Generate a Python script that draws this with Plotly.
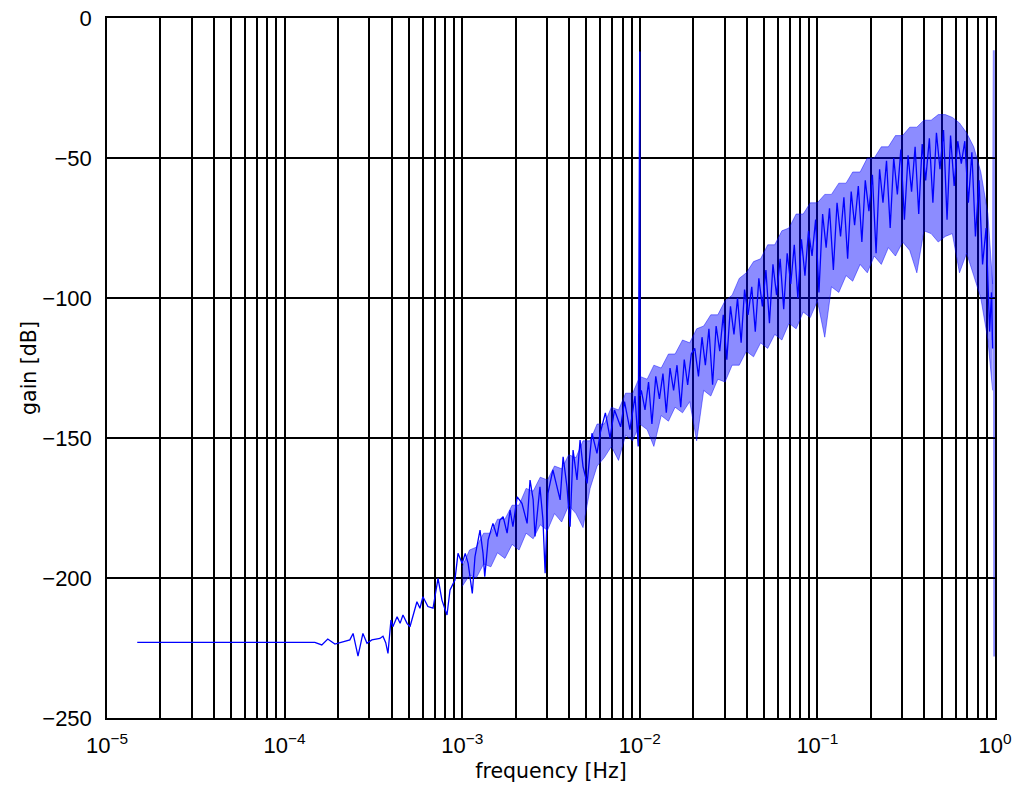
import plotly.graph_objects as go

# ---- main (dark) trace: frequency [Hz] and gain [dB] ----
freq = [
    1.48e-5, 1.48e-4, 1.62e-4, 1.75e-4, 1.92e-4, 2.13e-4, 2.33e-4, 2.43e-4, 2.59e-4, 2.76e-4,
    2.91e-4, 3.10e-4, 3.44e-4, 3.58e-4, 3.71e-4, 3.82e-4, 3.97e-4, 4.07e-4, 4.30e-4, 4.47e-4,
    4.64e-4, 4.89e-4, 5.08e-4, 5.56e-4, 5.78e-4, 6.01e-4, 6.41e-4, 6.85e-4, 7.31e-4, 7.69e-4,
    8.21e-4, 8.54e-4, 9.10e-4, 9.47e-4, 1.00e-3, 1.04e-3, 1.08e-3, 1.14e-3, 1.18e-3, 1.26e-3,
    1.31e-3, 1.34e-3, 1.40e-3, 1.49e-3, 1.57e-3, 1.63e-3, 1.70e-3, 1.79e-3, 1.86e-3, 1.93e-3,
    2.04e-3, 2.17e-3, 2.32e-3, 2.41e-3, 2.51e-3, 2.57e-3, 2.74e-3, 2.85e-3, 2.93e-3, 3.04e-3,
    3.24e-3, 3.56e-3, 3.70e-3, 3.89e-3, 4.05e-3, 4.21e-3, 4.43e-3, 4.61e-3, 4.79e-3, 5.05e-3,
    5.38e-3, 5.74e-3, 6.0e-3, 6.4e-3, 6.8e-3, 7.2e-3, 7.8e-3, 8.2e-3, 8.8e-3, 9.4e-3,
    9.8e-3, 1.0e-2, 1.005e-2,
    0.0102, 0.0107, 0.0112, 0.0117, 0.0123, 0.0129, 0.0135, 0.0141, 0.0148, 0.0155,
    0.0162, 0.0170, 0.0178, 0.0186, 0.0195, 0.0204, 0.0214, 0.0224, 0.0234, 0.0245,
    0.0257, 0.0269, 0.0282, 0.0295, 0.0309, 0.0324, 0.0339, 0.0355, 0.0372, 0.0389,
    0.0407, 0.0427, 0.0447, 0.0468, 0.0490, 0.0513, 0.0537, 0.0562, 0.0589, 0.0617,
    0.0646, 0.0676, 0.0708, 0.0741, 0.0776, 0.0813, 0.0851, 0.0891, 0.0933, 0.0977,
    0.102, 0.107, 0.112, 0.117, 0.123, 0.129, 0.135, 0.141, 0.148, 0.155,
    0.162, 0.170, 0.178, 0.186, 0.195, 0.204, 0.214, 0.224, 0.234, 0.245,
    0.257, 0.269, 0.282, 0.295, 0.309, 0.324, 0.339, 0.355, 0.372, 0.389,
    0.407, 0.427, 0.447, 0.468, 0.490, 0.513, 0.537, 0.562, 0.589, 0.617,
    0.646, 0.676, 0.708, 0.741, 0.776, 0.813, 0.851, 0.891, 0.933, 0.955, 0.970,
]
gain = [
    -223.0, -223.0, -223.9, -221.8, -223.6, -222.7, -222.1, -219.8, -227.9, -219.8,
    -223.3, -222.1, -221.6, -220.8, -223.1, -226.9, -215.0, -217.4, -213.8, -216.2,
    -213.2, -216.2, -217.4, -208.5, -210.8, -206.7, -210.2, -210.8, -200.1, -207.9,
    -213.2, -204.3, -200.7, -191.2, -194.8, -191.2, -194.8, -205.5, -192.4, -182.9,
    -191.2, -199.5, -186.4, -180.5, -185.2, -179.3, -178.1, -184.0, -175.7, -181.7,
    -171.0, -173.3, -180.5, -165.0, -172.1, -185.2, -167.4, -179.3, -198.3, -169.8,
    -161.4, -172.1, -156.7, -167.4, -181.7, -154.3, -165.0, -150.7, -160.2, -166.2,
    -148.3, -155.5, -148.0, -141.0, -150.0, -140.0, -146.0, -137.0, -147.0, -135.0,
    -153.0, -12.0, -135.0,
    -133, -140, -130, -145, -128, -136, -127, -141, -125, -133,
    -124, -139, -122, -131, -120, -118, -128, -114, -124, -111,
    -131, -110, -119, -106, -122, -103, -113, -100, -116, -97,
    -106, -96, -112, -93, -103, -90, -109, -88, -99, -86,
    -104, -84, -95, -81, -100, -79, -92, -76, -85, -72,
    -98, -70, -82, -68, -90, -66, -78, -64, -86, -62,
    -74, -60, -80, -58, -69, -56, -84, -54, -66, -51,
    -75, -50, -63, -47, -72, -49, -62, -46, -70, -45,
    -58, -43, -66, -41, -54, -40, -72, -42, -60, -44,
    -52, -44, -66, -48, -78, -58, -88, -75, -112, -98, -118,
]

# ---- light band (envelope of the dense noisy part) ----
band_freq = [
    1.00e-3, 1.10e-3, 1.20e-3, 1.32e-3, 1.45e-3, 1.58e-3, 1.74e-3, 1.91e-3, 2.09e-3, 2.29e-3,
    2.51e-3, 2.75e-3, 3.02e-3, 3.31e-3, 3.63e-3, 3.98e-3, 4.37e-3, 4.79e-3, 5.25e-3, 5.75e-3,
    6.31e-3, 6.92e-3, 7.59e-3, 8.32e-3, 9.12e-3, 1.00e-2, 1.10e-2, 1.20e-2, 1.32e-2, 1.45e-2,
    1.58e-2, 1.74e-2, 1.91e-2, 2.09e-2, 2.29e-2, 2.51e-2, 2.75e-2, 3.02e-2, 3.31e-2, 3.63e-2,
    3.98e-2, 4.37e-2, 4.79e-2, 5.25e-2, 5.75e-2, 6.31e-2, 6.92e-2, 7.59e-2, 8.32e-2, 9.12e-2,
    0.100, 0.110, 0.120, 0.132, 0.145, 0.158, 0.174, 0.191, 0.209, 0.229,
    0.251, 0.275, 0.302, 0.331, 0.363, 0.398, 0.437, 0.479, 0.525, 0.575,
    0.631, 0.692, 0.759, 0.832, 0.912, 0.970,
]
band_upper = [
    -196, -190, -189, -184, -184, -179, -179, -174, -174, -168,
    -169, -164, -165, -160, -161, -156, -157, -151, -151, -145,
    -145, -139, -140, -134, -134, -128, -129, -124, -125, -120,
    -120, -115, -116, -111, -110, -106, -106, -101, -99, -93,
    -91, -87, -86, -81, -81, -76, -75, -70, -70, -66,
    -66, -63, -63, -59, -59, -55, -55, -50, -50, -46,
    -46, -42, -42, -39, -39, -36.5, -36.5, -34.5, -34.5, -35.5,
    -37.5, -41, -46, -55, -70, -95,
]
band_lower = [
    -203, -199, -200, -195, -196, -191, -193, -188, -190, -184,
    -186, -181, -183, -177, -180, -174, -177, -182, -168, -160,
    -157, -153, -158, -149, -151, -145, -147, -153, -142, -144,
    -139, -141, -137, -151, -133, -135, -129, -130, -124, -124,
    -119, -121, -116, -118, -113, -115, -109, -111, -105, -107,
    -101, -114, -96, -98, -92, -94, -88, -91, -85, -88,
    -82, -85, -80, -83, -91, -76, -77, -80, -78, -77,
    -91, -84, -92, -100, -115, -133,
]

# ---- last light spike at the Nyquist end ----
tail_freq = [0.970, 0.985, 0.990, 0.995]
tail_gain = [-115.0, -11.5, -228.0, -222.0]

# ---- axis ticks ----
y_ticks = [-250, -200, -150, -100, -50, 0]
x_major = [1e-5, 1e-4, 1e-3, 1e-2, 1e-1, 1.0]
x_major_text = ["10<sup>−5</sup>", "10<sup>−4</sup>", "10<sup>−3</sup>",
                "10<sup>−2</sup>", "10<sup>−1</sup>", "10<sup>0</sup>"]
x_minor = [k * d for d in x_major[:-1] for k in range(2, 10)]

LIGHT = "rgba(0,0,255,0.45)"
DARK = "#0000ff"

fig = go.Figure()
fig.add_trace(go.Scatter(x=band_freq, y=band_lower, mode="lines",
                         line=dict(color=LIGHT, width=1), hoverinfo="skip",
                         showlegend=False))
fig.add_trace(go.Scatter(x=band_freq, y=band_upper, mode="lines",
                         line=dict(color=LIGHT, width=1), fill="tonexty",
                         fillcolor=LIGHT, hoverinfo="skip", showlegend=False))
fig.add_trace(go.Scatter(x=tail_freq, y=tail_gain, mode="lines",
                         line=dict(color=LIGHT, width=2), showlegend=False))
fig.add_trace(go.Scatter(x=freq, y=gain, mode="lines",
                         line=dict(color=DARK, width=1.3), showlegend=False))

tickfont = dict(family="Liberation Sans, Arial, sans-serif", size=22, color="black")
titlefont = dict(family="DejaVu Sans, sans-serif", size=20.5, color="black")

fig.update_layout(
    width=1018, height=799,
    margin=dict(l=107, r=23, t=18, b=81, autoexpand=False),
    paper_bgcolor="white", plot_bgcolor="white",
    showlegend=False,
)
fig.update_xaxes(
    type="log", range=[-5, 0],
    tickmode="array", tickvals=x_major, ticktext=x_major_text,
    showgrid=True, gridcolor="black", gridwidth=1.5,
    minor=dict(tickmode="array", tickvals=x_minor, showgrid=True,
               gridcolor="black", gridwidth=1.5,
               ticks="inside", ticklen=3, tickcolor="black"),
    showline=True, linecolor="black", linewidth=1.5, mirror="ticks",
    ticks="inside", ticklen=5, tickcolor="black", tickwidth=1,
    tickfont=tickfont, ticklabelstandoff=7, ticklabeloverflow="allow",
    title=dict(text="frequency [Hz]", font=titlefont, standoff=6),
    zeroline=False,
)
fig.update_yaxes(
    range=[-250, 0],
    tickmode="array", tickvals=y_ticks,
    showgrid=True, gridcolor="black", gridwidth=1.5,
    showline=True, linecolor="black", linewidth=1.5, mirror="ticks",
    ticks="inside", ticklen=5, tickcolor="black", tickwidth=1,
    tickfont=tickfont, ticklabelstandoff=9, ticklabeloverflow="allow",
    title=dict(text="gain [dB]", font=titlefont, standoff=0),
    zeroline=False,
)

# remove the default 8 px page margin so the figure fills the window exactly
fig.write_html(
    "out.html",
    config={"displayModeBar": False},
    post_script="document.body.style.margin='0px';document.body.style.overflow='hidden';",
)
